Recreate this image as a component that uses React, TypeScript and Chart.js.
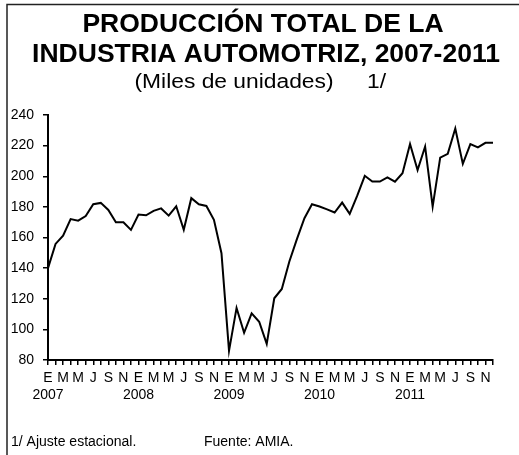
import React, { useEffect, useRef } from "react";
import { Chart, registerables } from "chart.js";

Chart.register(...registerables);

const years = ["2007", "2008", "2009", "2010", "2011"];
const monthLetters = ["E", "F", "M", "A", "M", "J", "J", "A", "S", "O", "N", "D"];

const v2007 = [140, 155.8, 161.2, 172, 171, 174, 181.7, 182.6, 178, 170, 170, 165];
const v2008 = [175, 174.5, 177.4, 179, 174.3, 180.4, 165, 185.7, 181.7, 180.6, 171.5, 149.7];
const v2009 = [86, 114, 97.8, 110.5, 105, 90.5, 120.3, 126.4, 144.3, 158.9, 172.6, 181.7];
const v2010 = [180.2, 178.4, 176.3, 182.8, 175.4, 187.3, 200.3, 196.5, 196.5, 199.3, 196.5, 202];
const v2011 = [221, 204, 219.4, 180.2, 212.2, 214.6, 231.2, 208.1, 221, 218.8, 221.8, 221.8];

const yTicks = [80, 100, 120, 140, 160, 180, 200, 220, 240];

const titleLines = ["PRODUCCIÓN TOTAL DE LA", "INDUSTRIA AUTOMOTRIZ, 2007-2011"];
const subtitle = "(Miles de unidades)";
const subtitleNote = "1/";
const footLeft = "1/ Ajuste estacional.";
const footRight = "Fuente: AMIA.";

const values = [...v2007, ...v2008, ...v2009, ...v2010, ...v2011];
const labels = years.flatMap((y) => monthLetters.map((m) => `${m} ${y}`));

const FONT = "'Liberation Sans', Arial, Helvetica, sans-serif";

const decor = {
  id: "decor",
  afterDraw(chart: any) {
    const ctx = chart.ctx as CanvasRenderingContext2D;
    ctx.save();
    ctx.strokeStyle = "#222";
    ctx.lineWidth = 1.5;
    ctx.beginPath();
    ctx.moveTo(7, 470);
    ctx.lineTo(7, 4.5);
    ctx.lineTo(530, 4.5);
    ctx.stroke();

    ctx.fillStyle = "#000";
    ctx.textBaseline = "alphabetic";
    ctx.textAlign = "center";
    ctx.font = `bold 26.5px ${FONT}`;
    ctx.fillText(titleLines[0], 263, 32);
    ctx.fillText(titleLines[1], 266, 62);

    ctx.font = `20px ${FONT}`;
    const w = ctx.measureText(subtitle).width;
    const target = 199;
    ctx.save();
    ctx.translate(234, 88);
    ctx.scale(target / w, 1);
    ctx.fillText(subtitle, 0, 0);
    ctx.restore();
    ctx.textAlign = "left";
    ctx.save();
    ctx.translate(367, 88);
    ctx.scale(target / w, 1);
    ctx.fillText(subtitleNote, 0, 0);
    ctx.restore();

    ctx.font = `14px ${FONT}`;
    ctx.textAlign = "left";
    ctx.fillText(footLeft, 11, 446);
    ctx.fillText(footRight, 204, 446);
    ctx.restore();
  },
};

export default function App() {
  const ref = useRef<HTMLCanvasElement | null>(null);
  useEffect(() => {
    if (!ref.current) return;
    const chart = new Chart(ref.current, {
      type: "line",
      data: {
        labels,
        datasets: [
          {
            data: values,
            borderColor: "#000",
            borderWidth: 2,
            pointRadius: 0,
            tension: 0,
            fill: false,
          },
        ],
      },
      options: {
        responsive: false,
        animation: false,
        events: [],
        layout: { padding: { top: 115, right: 26, left: 0, bottom: 0 } },
        plugins: { legend: { display: false }, tooltip: { enabled: false }, title: { display: false } },
        scales: {
          x: {
            offset: false,
            grid: { display: true, drawOnChartArea: false, drawTicks: true, tickLength: 5, color: "#000", lineWidth: 1.5 },
            border: { display: true, color: "#000", width: 2 },
            ticks: {
              autoSkip: false,
              maxRotation: 0,
              minRotation: 0,
              padding: 5,
              color: "#000",
              font: { family: FONT, size: 14 },
              callback: (_v: any, i: number) => {
                const m = i % 12;
                if (m % 2) return "";
                return m === 0 ? [monthLetters[m], years[Math.floor(i / 12)]] : monthLetters[m];
              },
            },
            afterFit: (scale: any) => {
              scale.height = 95;
            },
          },
          y: {
            min: yTicks[0],
            max: yTicks[yTicks.length - 1],
            grid: { display: true, drawOnChartArea: false, drawTicks: true, tickLength: 5, color: "#000", lineWidth: 1.5 },
            border: { display: true, color: "#000", width: 2 },
            afterBuildTicks: (scale: any) => {
              scale.ticks = yTicks.map((v) => ({ value: v }));
            },
            ticks: {
              padding: 9,
              color: "#000",
              font: { family: FONT, size: 14 },
            },
            afterFit: (scale: any) => {
              scale.width = 48;
            },
          },
        },
      },
      plugins: [decor],
    });
    return () => chart.destroy();
  }, []);
  return (
    <div style={{ position: "absolute", left: 0, top: 0, width: 519, height: 455, background: "#fff" }}>
      <canvas ref={ref} width={519} height={455} style={{ display: "block" }} />
    </div>
  );
}
